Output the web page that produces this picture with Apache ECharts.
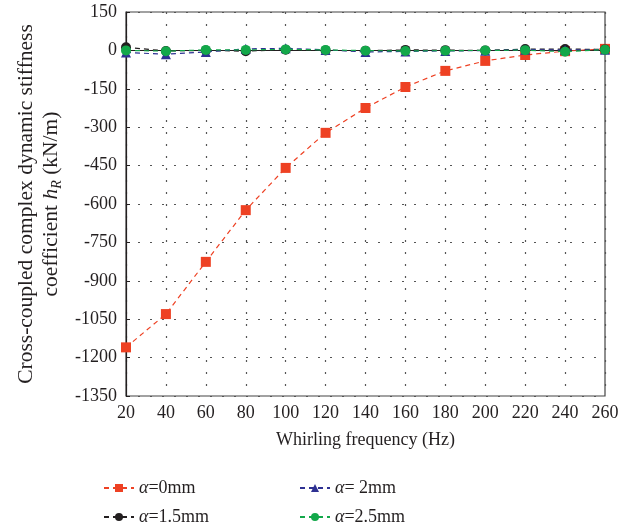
<!DOCTYPE html>
<html><head><meta charset="utf-8">
<script src="https://cdn.jsdelivr.net/npm/echarts@6/dist/echarts.min.js"></script>
<style>html,body{margin:0;padding:0;background:#fff}#c{width:638px;height:530px}</style>
</head><body><div id="c"></div>
<script>
const freqs = [20,40,60,80,100,120,140,160,180,200,220,240,260];
const yTicks = [150,0,-150,-300,-450,-600,-750,-900,-1050,-1200,-1350];
const a0   = [-1160,-1030,-826,-624,-459,-322,-225,-143,-80,-41,-18,-3,6];
const a15  = [12,-2,0,-3,3,0,-1,2,1,0,5,5,4];
const a2   = [-8,-15,-6,6,8,2,-6,-4,-2,-1,3,2,3];
const a25  = [0,-3,2,2,4,2,-1,-2,-1,0,1,-5,3];
const names = ['α=0mm','α=1.5mm','α= 2mm','α=2.5mm'];
const colors = ['#ee4123','#231f20','#2e3192','#13a84a'];
const symbols = ['rect','circle','triangle','circle'];
const datas = [a0,a15,a2,a25];
const font = 'Liberation Serif';
const series = names.map((n,i)=>({
  name:n, type:'line', data:freqs.map((f,j)=>[f,datas[i][j]]),
  symbol:symbols[i], symbolSize:10,
  z: i===0?2:(3+i),
  lineStyle:{color:colors[i],width:1.2,type:[5,4]},
  itemStyle:{color:colors[i]}
}));
const chart = echarts.init(document.getElementById('c'));
const legFmt = n => '{i|α}' + n.slice(1);
const legText = {fontFamily:font,fontSize:18,color:'#231f20',rich:{i:{fontFamily:font,fontSize:18,fontStyle:'italic',color:'#231f20'}}};
chart.setOption({
  animation:false,
  grid:{left:126,right:33,top:12,bottom:134,show:true,borderColor:'#444',borderWidth:1.2},
  xAxis:{type:'value',min:20,max:260,interval:20,
    name:'Whirling frequency (Hz)',nameLocation:'middle',nameGap:35,
    nameTextStyle:{fontFamily:font,fontSize:18,color:'#231f20'},
    axisLine:{lineStyle:{color:'#231f20',width:1.2}},
    axisTick:{inside:true,length:4,lineStyle:{color:'#231f20'}},
    axisLabel:{fontFamily:font,fontSize:18,color:'#231f20',margin:8},
    splitLine:{show:true,lineStyle:{type:[2,10],color:'#555',width:1.2}}},
  yAxis:{type:'value',min:-1350,max:150,interval:150,
    name:'{n|Cross-coupled complex dynamic stiffness}\n{n|coefficient }{i|h}{s|R}{n| (kN/m)}',
    nameLocation:'middle',nameGap:60,
    nameTextStyle:{fontFamily:font,fontSize:22,color:'#231f20',lineHeight:25,
      rich:{n:{fontFamily:font,fontSize:21.5,color:'#231f20',lineHeight:25},
            i:{fontFamily:font,fontSize:21.5,fontStyle:'italic',color:'#231f20',lineHeight:25},
            s:{fontFamily:font,fontSize:14,fontStyle:'italic',color:'#231f20',verticalAlign:'bottom',lineHeight:25,padding:[10,0,0,0]}}},
    axisLine:{show:true,lineStyle:{color:'#231f20',width:1.2}},
    axisTick:{show:true,inside:true,length:4,lineStyle:{color:'#231f20'}},
    axisLabel:{fontFamily:font,fontSize:18,color:'#231f20',margin:9,formatter:v=>String(v)},
    splitLine:{show:true,lineStyle:{type:[2,10],color:'#555',width:1.2}}},
  legend:[
    {data:[names[0],names[1]],orient:'vertical',left:103,top:479,height:51,padding:0,itemGap:11,itemWidth:30,itemHeight:10,
     formatter:legFmt,textStyle:legText},
    {data:[names[2],names[3]],orient:'vertical',left:299,top:479,height:51,padding:0,itemGap:11,itemWidth:30,itemHeight:10,
     formatter:legFmt,textStyle:legText}
  ],
  series
});
</script></body></html>
